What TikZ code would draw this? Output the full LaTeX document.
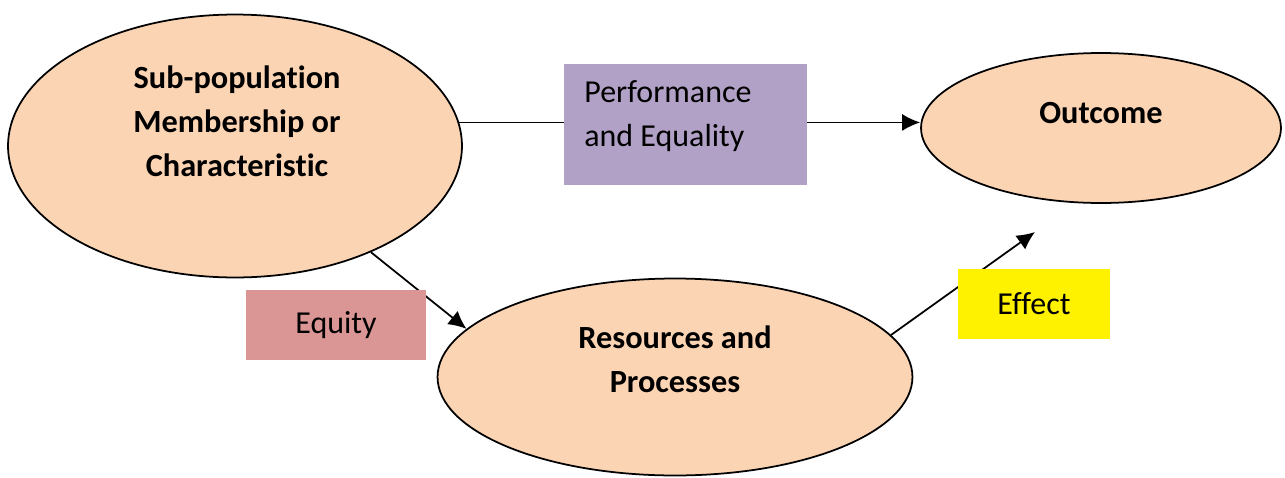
\documentclass[tikz,border=0pt]{standalone}
\usepackage{fontspec}
\setmainfont{Carlito}[Ligatures=NoCommon]
\usetikzlibrary{shapes.geometric,arrows.meta}
\definecolor{peach}{HTML}{FBD4B4}
\definecolor{lilac}{HTML}{B2A1C7}
\definecolor{rose}{HTML}{DA9694}

\begin{document}
\begin{tikzpicture}[x=0.02cm,y=-0.02cm,
    blob/.style={ellipse,draw,line width=1pt,fill=peach,inner sep=0pt},
    lbl/.style={font=\fontsize{18.4}{25}\selectfont\bfseries,align=center},
    tag/.style={fill=#1,inner sep=0pt,font=\fontsize{18.2}{25}\selectfont},
    arr/.style={line width=1pt,-{Latex[length=0.36cm,width=0.34cm]}}]
    \useasboundingbox (0,0) rectangle (1285,477);
    \node[blob,minimum width=9.08cm,minimum height=5.26cm] (sub) at (235,146) {};
    \node[blob,minimum width=7.2cm,minimum height=3cm] (out) at (1101,128) {};
    \node[blob,minimum width=9.5cm,minimum height=3.94cm] (res) at (675,377) {};
    \node[lbl] (subtext) at (237,121) {Sub-population\\Membership or\\Characteristic};
    \node[lbl] (outtext) at (1101,113) {Outcome};
    \node[lbl] (restext) at (675,359) {Resources and\\Processes};
    \coordinate (effend) at (1035,232);
    \draw[arr] (sub.6) -- (sub.6 -| out.west);
    \draw[arr] (sub.-38) -- (res.167);
    \draw[arr] (res.11) -- (effend);
    \node[tag=lilac,minimum width=4.86cm,minimum height=2.42cm] (perf) at (685.5,124.5) {};
    \node[tag=lilac,align=left,anchor=west] (perftext) at (584,116) {Performance\\and Equality};
    \node[tag=rose,minimum width=3.6cm,minimum height=1.4cm] (equity) at (336,325) {Equity};
    \node[tag=yellow,minimum width=3.04cm,minimum height=1.4cm] (effect) at (1034,304) {Effect};
\end{tikzpicture}
\end{document}
